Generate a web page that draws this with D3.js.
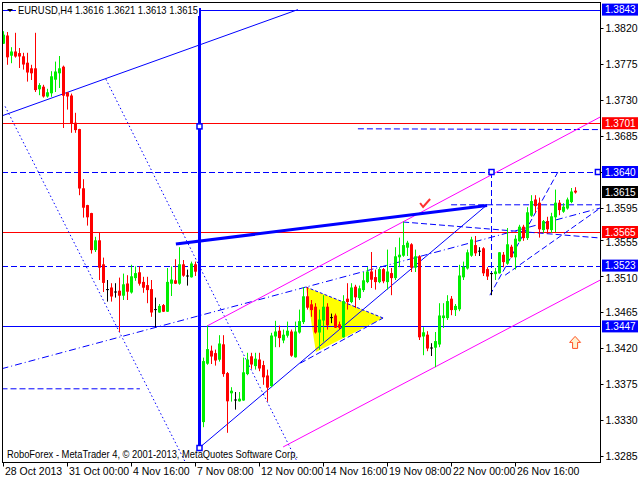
<!DOCTYPE html>
<html><head><meta charset="utf-8">
<script src="https://cdn.jsdelivr.net/npm/d3@7"></script>
<style>body{margin:0;background:#fff;overflow:hidden}</style>
</head><body>
<svg id="c" width="640" height="480" xmlns="http://www.w3.org/2000/svg"></svg>
<script>
// ---- DATA (EURUSD H4) ----
const opens = [
1.3801,1.3810,1.3786,1.3790,1.3788,1.3784,1.3776,1.3769,1.3769,1.3744,
1.3746,1.3735,1.3739,1.3756,1.3764,1.3771,1.3739,1.3735,1.3701,1.3693,
1.3619,1.3598,1.3588,1.3543,1.3554,1.3524,1.3493,1.3495,1.3490,1.3491,
1.3486,1.3500,1.3490,1.3508,1.3514,1.3502,1.3498,1.3493,1.3468,1.3465,
1.3473,1.3466,1.3501,1.3504,1.3501,1.3524,1.3510,1.3509,1.3524,1.3522,
1.3328,1.3401,1.3416,1.3413,1.3406,1.3424,1.3388,1.3364,1.3355,1.3354,
1.3355,1.3388,1.3409,1.3398,1.3405,1.3398,1.3385,1.3373,1.3435,1.3441,
1.3430,1.3436,1.3440,1.3409,1.3440,1.3453,1.3484,1.3474,1.3471,1.3440,
1.3455,1.3471,1.3458,1.3460,1.3449,1.3434,1.3481,1.3478,1.3496,1.3483,
1.3493,1.3503,1.3515,1.3508,1.3503,1.3518,1.3503,1.3513,1.3508,1.3534,
1.3536,1.3546,1.3549,1.3521,1.3534,1.3435,1.3436,1.3420,1.3421,1.3425,
1.3458,1.3458,1.3481,1.3468,1.3469,1.3509,1.3520,1.3536,1.3548,1.3541,
1.3544,1.3518,1.3513,1.3513,1.3514,1.3536,1.3526,1.3546,1.3534,1.3554,
1.3571,1.3558,1.3586,1.3605,1.3601,1.3568,1.3578,1.3568,1.3584,1.3601,
1.3591,1.3595,1.3603,1.3616];
const highs = [
1.3816,1.3815,1.3796,1.3814,1.3795,1.3789,1.3789,1.3774,1.3814,1.3751,
1.3749,1.3744,1.3766,1.3778,1.3785,1.3773,1.3740,1.3738,1.3714,1.3694,
1.3631,1.3599,1.3589,1.3559,1.3565,1.3533,1.3505,1.3501,1.3501,1.3508,
1.3513,1.3511,1.3524,1.3522,1.3522,1.3509,1.3509,1.3505,1.3483,1.3475,
1.3475,1.3520,1.3522,1.3531,1.3546,1.3530,1.3518,1.3528,1.3528,1.3528,
1.3408,1.3448,1.3423,1.3418,1.3436,1.3436,1.3390,1.3371,1.3365,1.3365,
1.3408,1.3414,1.3414,1.3414,1.3414,1.3404,1.3393,1.3439,1.3454,1.3448,
1.3443,1.3453,1.3443,1.3453,1.3468,1.3496,1.3496,1.3480,1.3476,1.3468,
1.3486,1.3476,1.3463,1.3463,1.3453,1.3486,1.3501,1.3501,1.3499,1.3498,
1.3515,1.3521,1.3540,1.3518,1.3521,1.3520,1.3543,1.3520,1.3546,1.3558,
1.3578,1.3554,1.3551,1.3543,1.3536,1.3446,1.3441,1.3426,1.3440,1.3476,
1.3476,1.3486,1.3485,1.3475,1.3524,1.3528,1.3543,1.3559,1.3560,1.3546,
1.3546,1.3521,1.3514,1.3520,1.3540,1.3540,1.3570,1.3549,1.3561,1.3574,
1.3574,1.3596,1.3611,1.3611,1.3608,1.3580,1.3584,1.3589,1.3618,1.3605,
1.3601,1.3608,1.3620,1.3621];
const lows = [
1.3800,1.3774,1.3776,1.3783,1.3770,1.3768,1.3753,1.3755,1.3740,1.3736,
1.3733,1.3733,1.3734,1.3740,1.3745,1.3695,1.3718,1.3689,1.3689,1.3611,
1.3583,1.3573,1.3538,1.3540,1.3505,1.3490,1.3478,1.3478,1.3483,1.3440,
1.3480,1.3480,1.3488,1.3504,1.3498,1.3489,1.3476,1.3459,1.3446,1.3464,
1.3465,1.3465,1.3485,1.3500,1.3499,1.3509,1.3498,1.3508,1.3510,1.3298,
1.3321,1.3399,1.3400,1.3398,1.3403,1.3384,1.3314,1.3353,1.3343,1.3353,
1.3354,1.3386,1.3394,1.3393,1.3391,1.3374,1.3353,1.3371,1.3421,1.3421,
1.3426,1.3433,1.3409,1.3408,1.3438,1.3450,1.3468,1.3459,1.3438,1.3418,
1.3428,1.3443,1.3451,1.3445,1.3443,1.3433,1.3468,1.3476,1.3470,1.3480,
1.3490,1.3501,1.3495,1.3493,1.3501,1.3501,1.3493,1.3486,1.3505,1.3521,
1.3534,1.3535,1.3515,1.3515,1.3430,1.3411,1.3416,1.3410,1.3396,1.3421,
1.3445,1.3455,1.3461,1.3460,1.3466,1.3505,1.3518,1.3534,1.3535,1.3535,
1.3510,1.3505,1.3486,1.3505,1.3513,1.3521,1.3524,1.3533,1.3518,1.3553,
1.3554,1.3555,1.3584,1.3589,1.3558,1.3564,1.3563,1.3564,1.3565,1.3586,
1.3589,1.3593,1.3601,1.3613];
const closes = [
1.3811,1.3784,1.3790,1.3785,1.3785,1.3775,1.3765,1.3764,1.3743,1.3748,
1.3735,1.3739,1.3759,1.3765,1.3769,1.3736,1.3735,1.3701,1.3693,1.3620,
1.3596,1.3584,1.3543,1.3554,1.3521,1.3502,1.3493,1.3485,1.3490,1.3486,
1.3499,1.3491,1.3509,1.3513,1.3501,1.3496,1.3493,1.3465,1.3468,1.3472,
1.3466,1.3502,1.3505,1.3501,1.3524,1.3511,1.3510,1.3525,1.3516,1.3328,
1.3403,1.3418,1.3410,1.3405,1.3425,1.3388,1.3354,1.3366,1.3355,1.3356,
1.3389,1.3405,1.3400,1.3406,1.3395,1.3384,1.3371,1.3435,1.3440,1.3433,
1.3436,1.3441,1.3411,1.3440,1.3453,1.3484,1.3471,1.3468,1.3440,1.3455,
1.3471,1.3449,1.3458,1.3446,1.3446,1.3478,1.3478,1.3495,1.3484,1.3494,
1.3504,1.3515,1.3506,1.3503,1.3518,1.3504,1.3515,1.3508,1.3534,1.3536,
1.3548,1.3551,1.3521,1.3534,1.3434,1.3439,1.3420,1.3420,1.3428,1.3460,
1.3460,1.3478,1.3468,1.3472,1.3510,1.3521,1.3539,1.3555,1.3539,1.3541,
1.3514,1.3510,1.3513,1.3515,1.3539,1.3528,1.3549,1.3534,1.3556,1.3571,
1.3558,1.3589,1.3603,1.3598,1.3569,1.3578,1.3569,1.3584,1.3601,1.3593,
1.3596,1.3605,1.3615,1.3615];

const timeLabels = ["28 Oct 2013","31 Oct 00:00","4 Nov 16:00","7 Nov 08:00","12 Nov 00:00","14 Nov 16:00","19 Nov 08:00","22 Nov 00:00","26 Nov 16:00"];
const timeLabelBars = [0,16,32,48,64,80,96,112,128];
const priceTicks = [1.3820,1.3775,1.3730,1.3685,1.3640,1.3595,1.3555,1.3510,1.3465,1.3420,1.3375,1.3330,1.3285];
const priceMarkers = [
  {p:1.3843, bg:"#0000ff"},{p:1.3701, bg:"#ff0000"},{p:1.3640, bg:"#0000ff"},
  {p:1.3615, bg:"#000000"},{p:1.3565, bg:"#ff0000"},{p:1.3523, bg:"#0000ff"},{p:1.3447, bg:"#0000ff"}];
const solidLevels = [{p:1.3843,c:"#0000ff"},{p:1.3447,c:"#0000ff"},{p:1.3701,c:"#ff0000"},{p:1.3565,c:"#ff0000"}];
const dashedLevels = [1.3640, 1.3523];
// trend objects: [bar1, price1, bar2, price2]
const dashedSegs = [
  [88.6,1.3694,149.2,1.3693],[-0.5,1.3369,34.1,1.3369],[111.9,1.3599,149.2,1.3599],
  [99.9,1.35775,149.2,1.35575],[122,1.3640,122,1.3486],[121.6,1.3486,138.6,1.3640],
  [74.2,1.3401,94.9,1.34575],[125.4,1.3511,149.2,1.3595]];
const dottedSegs = [[0.4,1.3722,47,1.3262],[25.6,1.3756,75,1.3262]];
const dashDotSegs = [[-0.5,1.3394,149.2,1.3595]];
const thinSolidSegs = [[-0.5,1.3710,73.6,1.3843],[48.9,1.3295,120.9,1.3599]];
const thickSegs = [[43.1,1.3550,120.9,1.3598],[49,1.3845,49,1.3295]];
const magentaSegs = [[50.9,1.34475,149.2,1.37088],[69.9,1.32963,149.2,1.35050]];
const triangle = [[75.6,1.34963],[78.1,1.3415],[94.9,1.34575]];
const anchorSquares = [[49,1.3697],[49,1.3295],[148.6,1.3640],[122,1.3640]];

// ---- SCALES ----
const svg = d3.select("#c");
const L=2, R=600, T=2, B=462;
const x = d3.scaleLinear().domain([0,149]).range([3.5,599.5]);
const y = d3.scaleLinear().domain([1.3855, 1.3855-462/8000]).range([0,462]);
const FONT = "'Liberation Sans', Arial, sans-serif";

svg.append("rect").attr("width",640).attr("height",480).attr("fill","#fff");
svg.append("defs").append("clipPath").attr("id","plot")
  .append("rect").attr("x",L).attr("y",T).attr("width",R-L).attr("height",B-T);
const g = svg.append("g").attr("clip-path","url(#plot)");

// yellow triangle
g.append("path").attr("d", d3.line()(triangle.map(d=>[x(d[0]),y(d[1])]))+"Z")
  .attr("fill","#ffff00").attr("stroke","none");
g.append("path").attr("d", d3.line()([triangle[0],triangle[2]].map(d=>[x(d[0]),y(d[1])])))
  .attr("fill","none").attr("stroke","#0000ff").attr("stroke-width",1).attr("stroke-dasharray","3,2");

function seg(sel, arr, color, w, dash){
  sel.selectAll(null).data(arr).enter().append("line")
    .attr("x1",d=>x(d[0])).attr("y1",d=>y(d[1])).attr("x2",d=>x(d[2])).attr("y2",d=>y(d[3]))
    .attr("stroke",color).attr("stroke-width",w).attr("stroke-dasharray",dash||null);
}
// horizontal levels
g.selectAll(null).data(solidLevels).enter().append("line")
  .attr("x1",L).attr("x2",R).attr("y1",d=>Math.round(y(d.p))+0.5).attr("y2",d=>Math.round(y(d.p))+0.5)
  .attr("stroke",d=>d.c).attr("stroke-width",1);
g.selectAll(null).data(dashedLevels).enter().append("line")
  .attr("x1",L).attr("x2",R).attr("y1",d=>Math.round(y(d))+0.5).attr("y2",d=>Math.round(y(d))+0.5)
  .attr("stroke","#0000ff").attr("stroke-width",1).attr("stroke-dasharray","6,3");
seg(g, dashedSegs, "#0000ff", 1, "6,3");
seg(g, dottedSegs, "#0000ff", 1, "1.5,2.5");
seg(g, dashDotSegs, "#0000ff", 1, "7,3,1,3");
seg(g, thinSolidSegs, "#0000ff", 1);
seg(g, magentaSegs, "#ff00ff", 1);

// candles
const bars = opens.map((o,i)=>({i,o,h:highs[i],l:lows[i],c:closes[i]}));
const col = d=> d.c>d.o ? "#00ee00" : (d.c<d.o ? "#ff0000" : "#000000");
const cg = g.append("g");
cg.selectAll("line.w").data(bars).enter().append("line")
  .attr("x1",d=>x(d.i)).attr("x2",d=>x(d.i)).attr("y1",d=>y(d.h)).attr("y2",d=>y(d.l))
  .attr("stroke",col).attr("stroke-width",1);
cg.selectAll("rect.b").data(bars).enter().append("rect")
  .attr("x",d=>x(d.i)-1.5).attr("width",3)
  .attr("y",d=>Math.min(y(d.o),y(d.c))-0.5)
  .attr("height",d=>Math.max(1,Math.abs(y(d.o)-y(d.c))+1))
  .attr("fill",col);

seg(g, thickSegs, "#0000ff", 3);
// anchor squares
g.selectAll(null).data(anchorSquares).enter().append("rect")
  .attr("x",d=>x(d[0])-2.5).attr("y",d=>y(d[1])-2.5).attr("width",5).attr("height",5)
  .attr("fill","#fff").attr("stroke","#0000ff").attr("stroke-width",1.5);

// check mark and arrow
const ck = [105.4,1.3600];
g.append("path").attr("d",`M${x(ck[0])-5},${y(ck[1])-1} L${x(ck[0])-2},${y(ck[1])+3} L${x(ck[0])+5},${y(ck[1])-5}`)
  .attr("fill","none").attr("stroke","#ff3030").attr("stroke-width",2);
const ar = [142.9,1.3427];
const ax=x(ar[0]), ay=y(ar[1]);
g.append("path").attr("d",`M${ax},${ay-6} L${ax+5.5},${ay} L${ax+2.5},${ay} L${ax+2.5},${ay+6} L${ax-2.5},${ay+6} L${ax-2.5},${ay} L${ax-5.5},${ay} Z`)
  .attr("fill","#fff2d0").attr("stroke","#ff5020").attr("stroke-width",1);

// frame
svg.append("rect").attr("x",L+0.5).attr("y",T+0.5).attr("width",R-L).attr("height",B-T)
  .attr("fill","none").attr("stroke","#000").attr("stroke-width",1);

// title label
svg.append("rect").attr("x",16).attr("y",3).attr("width",183).attr("height",13).attr("fill","#fff");
svg.append("path").attr("d","M7,9 L13,9 L10,12 Z").attr("fill","#000");
svg.append("text").attr("x",18).attr("y",14).attr("font-family",FONT).attr("font-size",10.5)
  .attr("textLength",180).attr("lengthAdjust","spacingAndGlyphs")
  .text("EURUSD,H4  1.3616 1.3621 1.3613 1.3615");
svg.append("text").attr("x",7).attr("y",458).attr("font-family",FONT).attr("font-size",10.5)
  .attr("textLength",291).attr("lengthAdjust","spacingAndGlyphs")
  .text("RoboForex - MetaTrader 4, © 2001-2013, MetaQuotes Software Corp.");

// right axis (a tick label covered by a price marker of the same value is not repeated)
const markerVals = priceMarkers.map(d=>d3.format(".4f")(d.p));
const ya = svg.append("g").attr("transform",`translate(${R+0.5},0)`)
  .call(d3.axisRight(y).tickValues(priceTicks).tickSize(3)
    .tickFormat(d=>markerVals.includes(d3.format(".4f")(d)) ? "" : d3.format(".4f")(d)));
ya.select(".domain").remove();
ya.selectAll("text").attr("font-family",FONT).attr("font-size",10.5).attr("fill","#000").attr("x",5)
  .attr("dy",d=>(d===1.3555||d===1.3510)?"0.55em":"0.32em");
ya.selectAll("line").attr("stroke","#000");
// price markers
const pm = svg.append("g");
pm.selectAll(null).data(priceMarkers).enter().append("rect")
  .attr("x",602).attr("y",d=>y(d.p)-6).attr("width",36).attr("height",12).attr("fill",d=>d.bg);
pm.selectAll(null).data(priceMarkers).enter().append("text")
  .attr("x",605).attr("y",d=>y(d.p)+3.5).attr("font-family",FONT).attr("font-size",10)
  .attr("fill","#fff").text(d=>d3.format(".4f")(d.p));

// bottom axis
const xa = svg.append("g").attr("transform",`translate(0,${B+0.5})`)
  .call(d3.axisBottom(x).tickValues(timeLabelBars).tickSize(4).tickFormat((d,k)=>timeLabels[k]));
xa.select(".domain").remove();
xa.selectAll("line").attr("stroke","#000").attr("transform","translate(-0.5,0)");
xa.selectAll("text").attr("font-family",FONT).attr("font-size",10.5).attr("fill","#000")
  .attr("text-anchor","start").attr("x",1).attr("dy","0.9em").attr("y",3);
</script>
</body></html>
